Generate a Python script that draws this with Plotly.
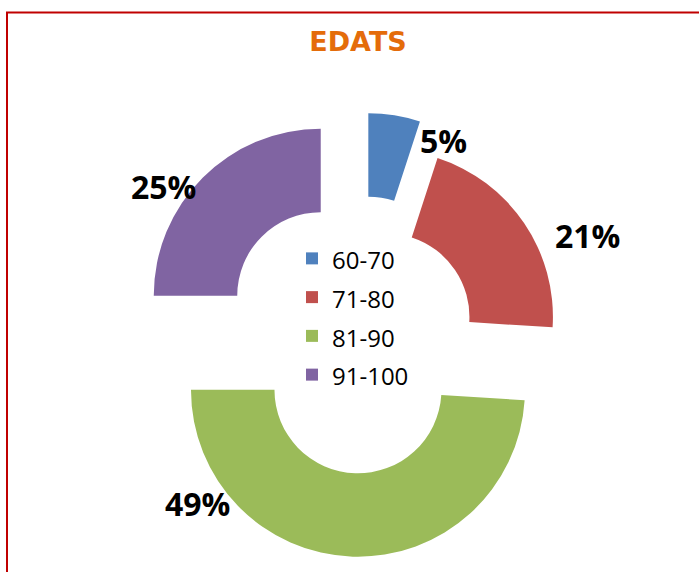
import plotly.graph_objects as go

# ---- data ----
categories = ["60-70", "71-80", "81-90", "91-100"]
values = [5, 21, 49, 25]
colors = ["#4F81BD", "#C0504D", "#9BBB59", "#8064A2"]
pulls = [0.33, 0.19, 0.33, 0.33]
title_text = "EDATS"

# label placement (pixel centres, layout only)
label_px = [(444, 140), (587, 235), (197, 503), (163, 187)]

W, H = 699, 572
total = sum(values)
pct_text = [f"{round(v / total * 100)}%" for v in values]

legend_labels = [f'<span style="font-size:24px">{c}</span>' for c in categories]

cx, cy, box = 359.7, 334.7, 444.2
fig = go.Figure(
    go.Pie(
        labels=legend_labels,
        values=values,
        marker=dict(colors=colors, line=dict(width=0)),
        pull=pulls,
        hole=0.5,
        sort=False,
        direction="clockwise",
        rotation=0,
        textinfo="none",
        textposition="none",
        hovertemplate="%{label}: %{percent}<extra></extra>",
        domain=dict(
            x=[(cx - 250) / W, (cx + 250) / W],
            y=[1 - (cy + box / 2) / H, 1 - (cy - box / 2) / H],
        ),
    )
)

annotations = []
for (px, py), t in zip(label_px, pct_text):
    annotations.append(
        dict(
            x=px / W, y=1 - py / H, xref="paper", yref="paper",
            text=f"<b>{t}</b>", showarrow=False,
            xanchor="center", yanchor="middle",
            font=dict(family="Open Sans", size=32, color="#000000"),
        )
    )

fig.update_layout(
    width=W, height=H,
    margin=dict(l=0, r=0, t=0, b=0),
    paper_bgcolor="white",
    plot_bgcolor="white",
    title=dict(
        text=f"<b>{title_text}</b>",
        x=358 / W, xanchor="center",
        y=1 - 42 / H, yanchor="middle", yref="container",
        font=dict(family="DejaVu Sans", size=27, color="#E46C0A"),
    ),
    showlegend=True,
    legend=dict(
        x=292 / W, y=1 - 234 / H, xanchor="left", yanchor="top",
        bgcolor="rgba(0,0,0,0)",
        font=dict(family="Open Sans", size=27.5, color="#000000"),
        traceorder="normal",
    ),
    annotations=annotations,
    shapes=[
        dict(
            type="rect", xref="paper", yref="paper",
            x0=7 / W, x1=1.05, y0=-0.05, y1=1 - 12.5 / H,
            line=dict(color="#C00000", width=2),
            fillcolor="rgba(0,0,0,0)",
        )
    ],
)

fig.write_html(
    "out.html",
    config={"displayModeBar": False},
    post_script="document.body.style.margin='0';",
)
